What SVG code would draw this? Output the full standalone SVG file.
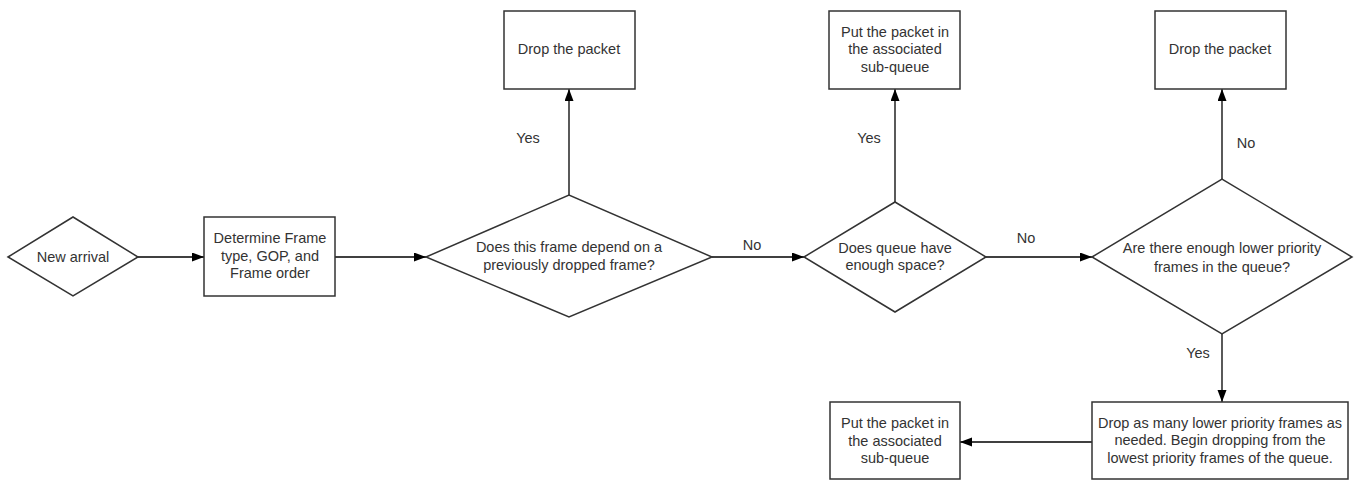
<svg xmlns="http://www.w3.org/2000/svg" width="1354" height="481" viewBox="0 0 1354 481">
<style>
.shape{fill:#ffffff;stroke:#333333;stroke-width:1.5}
.t{font-family:"Liberation Sans",Arial,sans-serif;font-size:14.5px;fill:#333333;text-anchor:middle}
.c{fill:none;stroke:#000000;stroke-width:1.3}
</style>
<defs>
<marker id="arr" markerUnits="userSpaceOnUse" markerWidth="13" markerHeight="10" refX="12" refY="4.5" orient="auto">
<path d="M0,0 L12,4.5 L0,9 z" fill="#000000"/>
</marker>
</defs>
<rect width="1354" height="481" fill="#ffffff"/>
<g id="connectors">
<line class="c" x1="138" y1="257" x2="204" y2="257" marker-end="url(#arr)"/>
<line class="c" x1="335" y1="257" x2="426" y2="257" marker-end="url(#arr)"/>
<line class="c" x1="569" y1="195" x2="569" y2="89" marker-end="url(#arr)"/>
<line class="c" x1="712" y1="257" x2="804" y2="257" marker-end="url(#arr)"/>
<line class="c" x1="895" y1="202" x2="895" y2="89" marker-end="url(#arr)"/>
<line class="c" x1="986" y1="257" x2="1092" y2="257" marker-end="url(#arr)"/>
<line class="c" x1="1222" y1="179" x2="1222" y2="89" marker-end="url(#arr)"/>
<line class="c" x1="1222" y1="334" x2="1222" y2="402" marker-end="url(#arr)"/>
<line class="c" x1="1092" y1="442" x2="960" y2="442" marker-end="url(#arr)"/>
<text class="t" x="528" y="143">Yes</text>
<text class="t" x="752" y="250">No</text>
<text class="t" x="869" y="143">Yes</text>
<text class="t" x="1026" y="243">No</text>
<text class="t" x="1246" y="148">No</text>
<text class="t" x="1198" y="358">Yes</text>
</g>
<g id="new-arrival">
<polygon class="shape" points="8,257 73,217 138,257 73,296"/>
<text class="t" x="73" y="262">New arrival</text>
</g>
<g id="determine">
<rect class="shape" x="204" y="217" width="131" height="79"/>
<text class="t" x="270" y="243">Determine Frame</text>
<text class="t" x="270" y="261">type, GOP, and</text>
<text class="t" x="270" y="278">Frame order</text>
</g>
<g id="depend">
<polygon class="shape" points="426,257 569,195 712,257 569,317"/>
<text class="t" x="569" y="252">Does this frame depend on a</text>
<text class="t" x="569" y="270">previously dropped frame?</text>
</g>
<g id="drop1">
<rect class="shape" x="504" y="11" width="131" height="78"/>
<text class="t" x="569" y="54">Drop the packet</text>
</g>
<g id="space">
<polygon class="shape" points="804,257 895,202 986,257 895,312"/>
<text class="t" x="895" y="253">Does queue have</text>
<text class="t" x="895" y="270">enough space?</text>
</g>
<g id="put1">
<rect class="shape" x="829" y="11" width="131" height="78"/>
<text class="t" x="895" y="37">Put the packet in</text>
<text class="t" x="895" y="54">the associated</text>
<text class="t" x="895" y="72">sub-queue</text>
</g>
<g id="lower">
<polygon class="shape" points="1092,257 1222,179 1352,257 1222,334"/>
<text class="t" x="1222" y="253">Are there enough lower priority</text>
<text class="t" x="1222" y="272">frames in the queue?</text>
</g>
<g id="drop2">
<rect class="shape" x="1155" y="11" width="131" height="78"/>
<text class="t" x="1220" y="54">Drop the packet</text>
</g>
<g id="dropmany">
<rect class="shape" x="1092" y="402" width="256" height="77"/>
<text class="t" x="1220" y="428">Drop as many lower priority frames as</text>
<text class="t" x="1220" y="445">needed. Begin dropping from the</text>
<text class="t" x="1220" y="463">lowest priority frames of the queue.</text>
</g>
<g id="put2">
<rect class="shape" x="830" y="402" width="130" height="77"/>
<text class="t" x="895" y="428">Put the packet in</text>
<text class="t" x="895" y="446">the associated</text>
<text class="t" x="895" y="463">sub-queue</text>
</g>
</svg>
